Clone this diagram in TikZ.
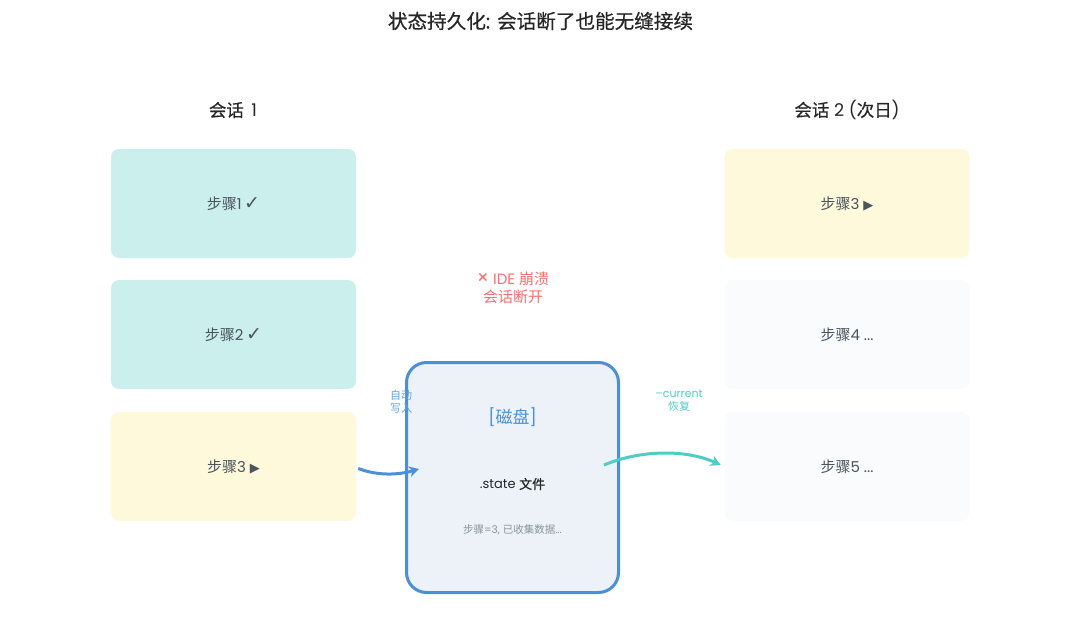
\documentclass[tikz,border=0pt]{standalone}
\usepackage{fontspec}
\usepackage{tikz}
\usetikzlibrary{arrows.meta}
\setmainfont{Poppins}
\newfontfamily\cjk{Noto Sans CJK SC}
\newfontfamily\cjkBold[FakeBold=0.5]{Noto Sans CJK SC}
\newfontfamily\latinBold[FakeBold=0.5]{Poppins}
\newfontfamily\symbolFont{DejaVu Sans}
\tikzstyle{canvas} = [x = 1pt, y = -1pt]
\definecolor{doneColor}{HTML}{CAEFEC}
\definecolor{activeColor}{HTML}{FFF9DB}
\definecolor{pendingColor}{HTML}{FAFBFD}
\definecolor{diskColor}{HTML}{4A90D9}
\definecolor{diskFill}{HTML}{ECF2F8}
\definecolor{restoreColor}{HTML}{4ECDC4}
\definecolor{crashColor}{HTML}{FF6B6B}
\definecolor{stepText}{HTML}{4A5560}
\definecolor{noteText}{HTML}{8A939B}
\tikzstyle{stepStyle} = [draw=none, rounded corners = 8pt, minimum width = 245pt, minimum height = 109pt, inner sep = 0pt, text=stepText, font=\fontsize{15}{18}\selectfont]
\tikzstyle{diskStyle} = [draw=diskColor, fill=diskFill, line width = 3pt, rounded corners = 20pt, minimum width = 212pt, minimum height = 230pt, inner sep = 0pt]
\tikzstyle{headStyle} = [inner sep = 0pt, text=black!85, font=\fontsize{17.5}{20}\selectfont]
\tikzstyle{linkLabel} = [inner sep = 0pt, align=center, font=\fontsize{11}{13}\selectfont]
\tikzstyle{linkLine} = [line width = 3pt, -{Stealth[length=10pt, width=11pt]}]
\newcommand{\stepBox}[5]{\node [stepStyle, fill=#4] (#1) at (#2, #3) {#5};}
\newcommand{\doneMark}{\,{\symbolFont\fontsize{19}{19}\selectfont ✓}}
\newcommand{\activeMark}{ {\symbolFont\fontsize{13}{13}\selectfont ▶}}
\begin{document}
\begin{tikzpicture}[canvas]
  \useasboundingbox (0,0) rectangle (1080,642);

  \node [inner sep = 0pt, text=black!85, font=\fontsize{19.6}{22}\selectfont] (title) at (540.5, 21) {\cjkBold 状态持久化\latinBold: \cjkBold 会话断了也能无缝接续};

  % session 1
  \node [headStyle] (sessionOne) at (233, 110) {{\cjkBold 会话}\, 1};
  \stepBox{stepOne}{233.5}{203.5}{doneColor}{{\cjk 步骤}1\doneMark}
  \stepBox{stepTwo}{233.5}{334.5}{doneColor}{{\cjk 步骤}2\doneMark}
  \stepBox{stepThree}{233.5}{466.5}{activeColor}{{\cjk 步骤}3\activeMark}

  % session 2
  \node [headStyle] (sessionTwo) at (847, 110) {{\cjkBold 会话} 2 ({\cjkBold 次日})};
  \stepBox{nextThree}{847}{203.5}{activeColor}{{\cjk 步骤}3\activeMark}
  \stepBox{nextFour}{847}{334.5}{pendingColor}{{\cjk 步骤}4 ...}
  \stepBox{nextFive}{847}{466.5}{pendingColor}{{\cjk 步骤}5 ...}

  % disk
  \node [diskStyle] (disk) at (512.5, 477.5) {};
  \node [inner sep = 0pt, text=diskColor, font=\fontsize{17}{20}\selectfont] (diskTitle) at (512.5, 417) {[{\cjk 磁盘}]};
  \node [inner sep = 0pt, text=black!85, font=\fontsize{13}{16}\selectfont] (stateFile) at (512.5, 484) {.state {\cjkBold 文件}};
  \node [inner sep = 0pt, text=noteText, font=\fontsize{10.5}{13}\selectfont] (stateNote) at (512.5, 529.5) {{\cjk 步骤}=3, {\cjk 已收集数据}...};

  \node [inner sep = 0pt, align=center, text=crashColor, font=\fontsize{15}{18}\selectfont] (crashNote) at (513, 288) {{\fontsize{19}{18}\selectfont ×} IDE {\cjk 崩溃}\\{\cjk 会话断开}};

  % links
  \node [linkLabel, text=diskColor!85] (writeLabel) at (401, 402) {\cjk 自动\\\cjk 写入};
  \node [linkLabel, text=restoreColor] (restoreLabel) at (679, 401) {–current\\{\cjk 恢复}};
  \coordinate (writeEnd) at (419, 469);
  \coordinate (restoreStart) at (604, 465);
  \draw [linkLine, diskColor] (stepThree.east) ++(2, 2) .. controls (378, 476) and (398, 475) .. (writeEnd);
  \draw [linkLine, restoreColor, shorten >= 4pt] (restoreStart) .. controls (640, 450) and (685, 449) .. (nextFive.west);
\end{tikzpicture}
\end{document}
